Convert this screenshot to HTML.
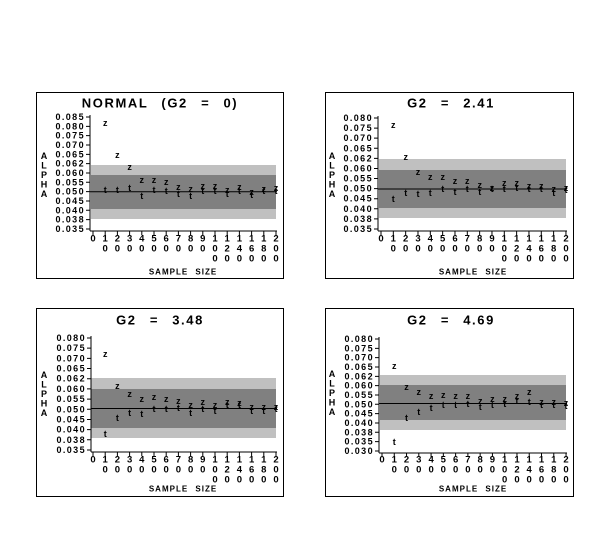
<!DOCTYPE html>
<html><head><meta charset="utf-8"><style>
html,body{margin:0;padding:0;background:#fff;}
svg{display:block;}
text{font-family:"Liberation Sans",sans-serif;font-weight:bold;fill:#000;}
.yl{font-size:9px;letter-spacing:1.4px;text-anchor:end;dominant-baseline:central;}
.xl{font-size:9.5px;text-anchor:middle;dominant-baseline:central;}
.t{font-size:13px;text-anchor:middle;dominant-baseline:central;word-spacing:8px;letter-spacing:1.6px;}
.a{font-size:9px;text-anchor:middle;dominant-baseline:central;}
.s{font-size:8px;text-anchor:middle;dominant-baseline:central;letter-spacing:1px;word-spacing:4px;}
.p{font-size:9px;text-anchor:middle;dominant-baseline:central;}
</style></head><body>
<svg width="615" height="535" xmlns="http://www.w3.org/2000/svg">
<rect width="615" height="535" fill="#fff"/>

<!-- Panel 1 -->
<rect x="36.5" y="92.5" width="247" height="186" fill="none" stroke="#000"/>
<text class="t" x="160" y="103">NORMAL (G2 = 0)</text>
<rect x="91" y="165" width="185" height="54" fill="#c0c0c0"/>
<rect x="91" y="175" width="185" height="34" fill="#808080"/>
<line x1="90" y1="191.7" x2="277" y2="191.7" stroke="#000"/>
<line x1="90" y1="115" x2="90" y2="231" stroke="#000"/>
<line x1="90" y1="231" x2="277" y2="231" stroke="#000"/>
<line x1="88" y1="116.5" x2="88" y2="230" stroke="#000" stroke-width="4" stroke-dasharray="1 8.33"/>
<line x1="92.5" y1="233" x2="278" y2="233" stroke="#000" stroke-width="4" stroke-dasharray="1 11.2"/>
<text class="a" x="44" y="156">A</text><text class="a" x="44" y="165.5">L</text><text class="a" x="44" y="175">P</text><text class="a" x="44" y="184.5">H</text><text class="a" x="44" y="194">A</text>
<text class="yl" x="85" y="117">0.085</text><text class="yl" x="85" y="126.3">0.080</text><text class="yl" x="85" y="135.7">0.075</text><text class="yl" x="85" y="145">0.070</text><text class="yl" x="85" y="154.3">0.065</text><text class="yl" x="85" y="163.7">0.062</text><text class="yl" x="85" y="173">0.060</text><text class="yl" x="85" y="182.3">0.055</text><text class="yl" x="85" y="191.7">0.050</text><text class="yl" x="85" y="201">0.045</text><text class="yl" x="85" y="210.3">0.040</text><text class="yl" x="85" y="219.7">0.038</text><text class="yl" x="85" y="229">0.035</text>
<text class="xl" x="93" y="239">0</text><text class="xl" x="105.2" y="239">1</text><text class="xl" x="117.4" y="239">2</text><text class="xl" x="129.6" y="239">3</text><text class="xl" x="141.8" y="239">4</text><text class="xl" x="154" y="239">5</text><text class="xl" x="166.2" y="239">6</text><text class="xl" x="178.4" y="239">7</text><text class="xl" x="190.6" y="239">8</text><text class="xl" x="202.8" y="239">9</text><text class="xl" x="215" y="239">1</text><text class="xl" x="227.2" y="239">1</text><text class="xl" x="239.4" y="239">1</text><text class="xl" x="251.6" y="239">1</text><text class="xl" x="263.8" y="239">1</text><text class="xl" x="276" y="239">2</text>
<text class="xl" x="105.2" y="249">0</text><text class="xl" x="117.4" y="249">0</text><text class="xl" x="129.6" y="249">0</text><text class="xl" x="141.8" y="249">0</text><text class="xl" x="154" y="249">0</text><text class="xl" x="166.2" y="249">0</text><text class="xl" x="178.4" y="249">0</text><text class="xl" x="190.6" y="249">0</text><text class="xl" x="202.8" y="249">0</text><text class="xl" x="215" y="249">0</text><text class="xl" x="227.2" y="249">2</text><text class="xl" x="239.4" y="249">4</text><text class="xl" x="251.6" y="249">6</text><text class="xl" x="263.8" y="249">8</text><text class="xl" x="276" y="249">0</text>
<text class="xl" x="215" y="259">0</text><text class="xl" x="227.2" y="259">0</text><text class="xl" x="239.4" y="259">0</text><text class="xl" x="251.6" y="259">0</text><text class="xl" x="263.8" y="259">0</text><text class="xl" x="276" y="259">0</text>
<text class="s" x="183" y="272">SAMPLE SIZE</text>
<text class="p" x="105.2" y="123">z</text><text class="p" x="117.4" y="155">z</text><text class="p" x="129.6" y="167">z</text><text class="p" x="141.8" y="180">z</text><text class="p" x="154" y="180">z</text><text class="p" x="166.2" y="182">z</text><text class="p" x="178.4" y="187">z</text><text class="p" x="190.6" y="189">z</text><text class="p" x="202.8" y="186">z</text><text class="p" x="215" y="186">z</text><text class="p" x="227.2" y="190">z</text><text class="p" x="239.4" y="187">z</text><text class="p" x="251.6" y="192">z</text><text class="p" x="263.8" y="189">z</text><text class="p" x="276" y="188">z</text>
<text class="p" x="105.2" y="190">t</text><text class="p" x="117.4" y="190">t</text><text class="p" x="129.6" y="188">t</text><text class="p" x="141.8" y="196">t</text><text class="p" x="154" y="190">t</text><text class="p" x="166.2" y="191">t</text><text class="p" x="178.4" y="194">t</text><text class="p" x="190.6" y="196">t</text><text class="p" x="202.8" y="191">t</text><text class="p" x="215" y="191">t</text><text class="p" x="227.2" y="194">t</text><text class="p" x="239.4" y="191">t</text><text class="p" x="251.6" y="195">t</text><text class="p" x="263.8" y="191">t</text><text class="p" x="276" y="191">t</text>

<!-- Panel 2 -->
<rect x="325.5" y="92.5" width="248" height="186" fill="none" stroke="#000"/>
<text class="t" x="451" y="103">G2 = 2.41</text>
<rect x="379" y="159" width="187" height="59" fill="#c0c0c0"/>
<rect x="379" y="170" width="187" height="38" fill="#808080"/>
<line x1="378" y1="189" x2="567" y2="189" stroke="#000"/>
<line x1="378" y1="116" x2="378" y2="231" stroke="#000"/>
<line x1="378" y1="231" x2="567" y2="231" stroke="#000"/>
<line x1="376" y1="117.5" x2="376" y2="230" stroke="#000" stroke-width="4" stroke-dasharray="1 9.09"/>
<line x1="380.5" y1="233" x2="568" y2="233" stroke="#000" stroke-width="4" stroke-dasharray="1 11.33"/>
<text class="a" x="332" y="156">A</text><text class="a" x="332" y="165.5">L</text><text class="a" x="332" y="175">P</text><text class="a" x="332" y="184.5">H</text><text class="a" x="332" y="194">A</text>
<text class="yl" x="373" y="118">0.080</text><text class="yl" x="373" y="128.1">0.075</text><text class="yl" x="373" y="138.2">0.070</text><text class="yl" x="373" y="148.3">0.065</text><text class="yl" x="373" y="158.4">0.062</text><text class="yl" x="373" y="168.5">0.060</text><text class="yl" x="373" y="178.5">0.055</text><text class="yl" x="373" y="188.6">0.050</text><text class="yl" x="373" y="198.7">0.045</text><text class="yl" x="373" y="208.8">0.040</text><text class="yl" x="373" y="218.9">0.038</text><text class="yl" x="373" y="229">0.035</text>
<text class="xl" x="381" y="239">0</text><text class="xl" x="393.3" y="239">1</text><text class="xl" x="405.7" y="239">2</text><text class="xl" x="418" y="239">3</text><text class="xl" x="430.3" y="239">4</text><text class="xl" x="442.7" y="239">5</text><text class="xl" x="455" y="239">6</text><text class="xl" x="467.3" y="239">7</text><text class="xl" x="479.7" y="239">8</text><text class="xl" x="492" y="239">9</text><text class="xl" x="504.3" y="239">1</text><text class="xl" x="516.7" y="239">1</text><text class="xl" x="529" y="239">1</text><text class="xl" x="541.3" y="239">1</text><text class="xl" x="553.7" y="239">1</text><text class="xl" x="566" y="239">2</text>
<text class="xl" x="393.3" y="249">0</text><text class="xl" x="405.7" y="249">0</text><text class="xl" x="418" y="249">0</text><text class="xl" x="430.3" y="249">0</text><text class="xl" x="442.7" y="249">0</text><text class="xl" x="455" y="249">0</text><text class="xl" x="467.3" y="249">0</text><text class="xl" x="479.7" y="249">0</text><text class="xl" x="492" y="249">0</text><text class="xl" x="504.3" y="249">0</text><text class="xl" x="516.7" y="249">2</text><text class="xl" x="529" y="249">4</text><text class="xl" x="541.3" y="249">6</text><text class="xl" x="553.7" y="249">8</text><text class="xl" x="566" y="249">0</text>
<text class="xl" x="504.3" y="259">0</text><text class="xl" x="516.7" y="259">0</text><text class="xl" x="529" y="259">0</text><text class="xl" x="541.3" y="259">0</text><text class="xl" x="553.7" y="259">0</text><text class="xl" x="566" y="259">0</text>
<text class="s" x="473" y="272">SAMPLE SIZE</text>
<text class="p" x="393.3" y="125">z</text><text class="p" x="405.7" y="157">z</text><text class="p" x="418" y="172">z</text><text class="p" x="430.3" y="177">z</text><text class="p" x="442.7" y="177">z</text><text class="p" x="455" y="181">z</text><text class="p" x="467.3" y="181">z</text><text class="p" x="479.7" y="185">z</text><text class="p" x="492" y="188">z</text><text class="p" x="504.3" y="183">z</text><text class="p" x="516.7" y="183">z</text><text class="p" x="529" y="186">z</text><text class="p" x="541.3" y="186">z</text><text class="p" x="553.7" y="189">z</text><text class="p" x="566" y="188">z</text>
<text class="p" x="393.3" y="199">t</text><text class="p" x="405.7" y="193">t</text><text class="p" x="418" y="194">t</text><text class="p" x="430.3" y="193">t</text><text class="p" x="442.7" y="189">t</text><text class="p" x="455" y="192">t</text><text class="p" x="467.3" y="189">t</text><text class="p" x="479.7" y="192">t</text><text class="p" x="492" y="189">t</text><text class="p" x="504.3" y="189">t</text><text class="p" x="516.7" y="188">t</text><text class="p" x="529" y="189">t</text><text class="p" x="541.3" y="189">t</text><text class="p" x="553.7" y="193">t</text><text class="p" x="566" y="190">t</text>

<!-- Panel 3 -->
<rect x="36.5" y="308.5" width="247" height="188" fill="none" stroke="#000"/>
<text class="t" x="160" y="320">G2 = 3.48</text>
<rect x="91" y="378" width="185" height="60" fill="#c0c0c0"/>
<rect x="91" y="389" width="185" height="39" fill="#808080"/>
<line x1="91" y1="408.5" x2="277" y2="408.5" stroke="#000"/>
<line x1="91" y1="336" x2="91" y2="452" stroke="#000"/>
<line x1="91" y1="452" x2="277" y2="452" stroke="#000"/>
<line x1="89" y1="337.5" x2="89" y2="451" stroke="#000" stroke-width="4" stroke-dasharray="1 9.18"/>
<line x1="92.5" y1="454" x2="278" y2="454" stroke="#000" stroke-width="4" stroke-dasharray="1 11.2"/>
<text class="a" x="44" y="375">A</text><text class="a" x="44" y="384.5">L</text><text class="a" x="44" y="394">P</text><text class="a" x="44" y="403.5">H</text><text class="a" x="44" y="413">A</text>
<text class="yl" x="86" y="338">0.080</text><text class="yl" x="86" y="348.2">0.075</text><text class="yl" x="86" y="358.4">0.070</text><text class="yl" x="86" y="368.5">0.065</text><text class="yl" x="86" y="378.7">0.062</text><text class="yl" x="86" y="388.9">0.060</text><text class="yl" x="86" y="399.1">0.055</text><text class="yl" x="86" y="409.3">0.050</text><text class="yl" x="86" y="419.5">0.045</text><text class="yl" x="86" y="429.6">0.040</text><text class="yl" x="86" y="439.8">0.038</text><text class="yl" x="86" y="450">0.035</text>
<text class="xl" x="93" y="460">0</text><text class="xl" x="105.2" y="460">1</text><text class="xl" x="117.4" y="460">2</text><text class="xl" x="129.6" y="460">3</text><text class="xl" x="141.8" y="460">4</text><text class="xl" x="154" y="460">5</text><text class="xl" x="166.2" y="460">6</text><text class="xl" x="178.4" y="460">7</text><text class="xl" x="190.6" y="460">8</text><text class="xl" x="202.8" y="460">9</text><text class="xl" x="215" y="460">1</text><text class="xl" x="227.2" y="460">1</text><text class="xl" x="239.4" y="460">1</text><text class="xl" x="251.6" y="460">1</text><text class="xl" x="263.8" y="460">1</text><text class="xl" x="276" y="460">2</text>
<text class="xl" x="105.2" y="470">0</text><text class="xl" x="117.4" y="470">0</text><text class="xl" x="129.6" y="470">0</text><text class="xl" x="141.8" y="470">0</text><text class="xl" x="154" y="470">0</text><text class="xl" x="166.2" y="470">0</text><text class="xl" x="178.4" y="470">0</text><text class="xl" x="190.6" y="470">0</text><text class="xl" x="202.8" y="470">0</text><text class="xl" x="215" y="470">0</text><text class="xl" x="227.2" y="470">2</text><text class="xl" x="239.4" y="470">4</text><text class="xl" x="251.6" y="470">6</text><text class="xl" x="263.8" y="470">8</text><text class="xl" x="276" y="470">0</text>
<text class="xl" x="215" y="480">0</text><text class="xl" x="227.2" y="480">0</text><text class="xl" x="239.4" y="480">0</text><text class="xl" x="251.6" y="480">0</text><text class="xl" x="263.8" y="480">0</text><text class="xl" x="276" y="480">0</text>
<text class="s" x="183" y="489">SAMPLE SIZE</text>
<text class="p" x="105.2" y="354">z</text><text class="p" x="117.4" y="386">z</text><text class="p" x="129.6" y="394">z</text><text class="p" x="141.8" y="399">z</text><text class="p" x="154" y="397">z</text><text class="p" x="166.2" y="399">z</text><text class="p" x="178.4" y="401">z</text><text class="p" x="190.6" y="405">z</text><text class="p" x="202.8" y="402">z</text><text class="p" x="215" y="405">z</text><text class="p" x="227.2" y="402">z</text><text class="p" x="239.4" y="403">z</text><text class="p" x="251.6" y="407">z</text><text class="p" x="263.8" y="407">z</text><text class="p" x="276" y="407">z</text>
<text class="p" x="105.2" y="434">t</text><text class="p" x="117.4" y="418">t</text><text class="p" x="129.6" y="413">t</text><text class="p" x="141.8" y="414">t</text><text class="p" x="154" y="409">t</text><text class="p" x="166.2" y="409">t</text><text class="p" x="178.4" y="408">t</text><text class="p" x="190.6" y="413">t</text><text class="p" x="202.8" y="409">t</text><text class="p" x="215" y="411">t</text><text class="p" x="227.2" y="405">t</text><text class="p" x="239.4" y="405">t</text><text class="p" x="251.6" y="411">t</text><text class="p" x="263.8" y="411">t</text><text class="p" x="276" y="409">t</text>

<!-- Panel 4 -->
<rect x="325.5" y="308.5" width="248" height="188" fill="none" stroke="#000"/>
<text class="t" x="451" y="320">G2 = 4.69</text>
<rect x="380" y="375" width="186" height="55" fill="#c0c0c0"/>
<rect x="380" y="385" width="186" height="35" fill="#808080"/>
<line x1="379" y1="403.5" x2="567" y2="403.5" stroke="#000"/>
<line x1="379" y1="337" x2="379" y2="453" stroke="#000"/>
<line x1="379" y1="453" x2="567" y2="453" stroke="#000"/>
<line x1="377" y1="338.5" x2="377" y2="452" stroke="#000" stroke-width="4" stroke-dasharray="1 8.33"/>
<line x1="381.5" y1="455" x2="568" y2="455" stroke="#000" stroke-width="4" stroke-dasharray="1 11.27"/>
<text class="a" x="332" y="374">A</text><text class="a" x="332" y="383.5">L</text><text class="a" x="332" y="393">P</text><text class="a" x="332" y="402.5">H</text><text class="a" x="332" y="412">A</text>
<text class="yl" x="374" y="339">0.080</text><text class="yl" x="374" y="348.3">0.075</text><text class="yl" x="374" y="357.7">0.070</text><text class="yl" x="374" y="367">0.065</text><text class="yl" x="374" y="376.3">0.062</text><text class="yl" x="374" y="385.7">0.060</text><text class="yl" x="374" y="395">0.055</text><text class="yl" x="374" y="404.3">0.050</text><text class="yl" x="374" y="413.7">0.045</text><text class="yl" x="374" y="423">0.040</text><text class="yl" x="374" y="432.3">0.038</text><text class="yl" x="374" y="441.7">0.035</text><text class="yl" x="374" y="451">0.030</text>
<text class="xl" x="382" y="460">0</text><text class="xl" x="394.3" y="460">1</text><text class="xl" x="406.5" y="460">2</text><text class="xl" x="418.8" y="460">3</text><text class="xl" x="431.1" y="460">4</text><text class="xl" x="443.3" y="460">5</text><text class="xl" x="455.6" y="460">6</text><text class="xl" x="467.9" y="460">7</text><text class="xl" x="480.2" y="460">8</text><text class="xl" x="492.4" y="460">9</text><text class="xl" x="504.7" y="460">1</text><text class="xl" x="517" y="460">1</text><text class="xl" x="529.2" y="460">1</text><text class="xl" x="541.5" y="460">1</text><text class="xl" x="553.8" y="460">1</text><text class="xl" x="566" y="460">2</text>
<text class="xl" x="394.3" y="470">0</text><text class="xl" x="406.5" y="470">0</text><text class="xl" x="418.8" y="470">0</text><text class="xl" x="431.1" y="470">0</text><text class="xl" x="443.3" y="470">0</text><text class="xl" x="455.6" y="470">0</text><text class="xl" x="467.9" y="470">0</text><text class="xl" x="480.2" y="470">0</text><text class="xl" x="492.4" y="470">0</text><text class="xl" x="504.7" y="470">0</text><text class="xl" x="517" y="470">2</text><text class="xl" x="529.2" y="470">4</text><text class="xl" x="541.5" y="470">6</text><text class="xl" x="553.8" y="470">8</text><text class="xl" x="566" y="470">0</text>
<text class="xl" x="504.7" y="480">0</text><text class="xl" x="517" y="480">0</text><text class="xl" x="529.2" y="480">0</text><text class="xl" x="541.5" y="480">0</text><text class="xl" x="553.8" y="480">0</text><text class="xl" x="566" y="480">0</text>
<text class="s" x="473" y="489">SAMPLE SIZE</text>
<text class="p" x="394.3" y="366">z</text><text class="p" x="406.5" y="387">z</text><text class="p" x="418.8" y="392">z</text><text class="p" x="431.1" y="396">z</text><text class="p" x="443.3" y="395">z</text><text class="p" x="455.6" y="396">z</text><text class="p" x="467.9" y="396">z</text><text class="p" x="480.2" y="401">z</text><text class="p" x="492.4" y="399">z</text><text class="p" x="504.7" y="399">z</text><text class="p" x="517" y="396">z</text><text class="p" x="529.2" y="392">z</text><text class="p" x="541.5" y="402">z</text><text class="p" x="553.8" y="402">z</text><text class="p" x="566" y="403">z</text>
<text class="p" x="394.3" y="442">t</text><text class="p" x="406.5" y="418">t</text><text class="p" x="418.8" y="412">t</text><text class="p" x="431.1" y="408">t</text><text class="p" x="443.3" y="405">t</text><text class="p" x="455.6" y="405">t</text><text class="p" x="467.9" y="404">t</text><text class="p" x="480.2" y="407">t</text><text class="p" x="492.4" y="405">t</text><text class="p" x="504.7" y="404">t</text><text class="p" x="517" y="401">t</text><text class="p" x="529.2" y="402">t</text><text class="p" x="541.5" y="405">t</text><text class="p" x="553.8" y="405">t</text><text class="p" x="566" y="406">t</text>
</svg>
</body></html>
